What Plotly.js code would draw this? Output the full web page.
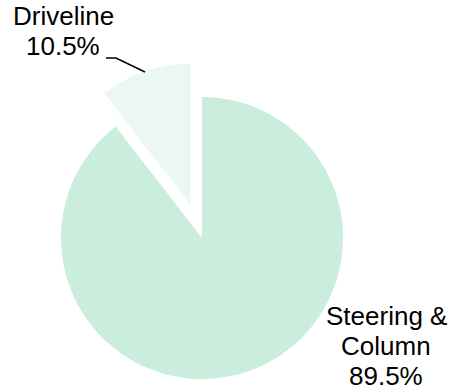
<!DOCTYPE html>
<html>
<head>
<meta charset="utf-8">
<script src="https://cdn.plot.ly/plotly-3.0.1.min.js"></script>
<style>html,body{margin:0;padding:0;background:#fff;}#chart{width:454px;height:392px;}</style>
</head>
<body>
<div id="chart"></div>
<script>
// ---- data ----
const labels = ['Steering & Column', 'Driveline'];
const values = [89.5, 10.5];
const pulls = [0, 0.25];
const colors = ['#CBEDDE', '#EBF7F1'];

// ---- layout constants ----
const W = 454, H = 392;
const CX = 202, CY = 238, R = 141;
const FONT = 'Liberation Sans, Arial, sans-serif';
const FS = 26;
const total = values.reduce((a, b) => a + b, 0);

function domainFor(cx, cy, r) {
  return { x: [(cx - r) / W, (cx + r) / W], y: [1 - (cy + r) / H, 1 - (cy - r) / H] };
}
function px(x) { return x / W; }
function py(y) { return 1 - y / H; }

const traces = [];
traces.push({
  type: 'pie', labels: labels, values: values, sort: false, direction: 'clockwise', rotation: 0,
  marker: { colors: colors.map((c, i) => pulls[i] > 0 ? 'rgba(0,0,0,0)' : c), line: { width: 0 } },
  textinfo: 'none', hoverinfo: 'label+percent', domain: domainFor(CX, CY, R)
});
let acc = 0;
values.forEach((v, i) => {
  const start = acc / total * 360; acc += v;
  const end = acc / total * 360;
  if (pulls[i] > 0) {
    const mid = (start + end) / 2 * Math.PI / 180;
    const dx = R * pulls[i] * Math.sin(mid);
    const dy = -R * pulls[i] * Math.cos(mid);
    traces.push({
      type: 'pie', labels: labels, values: values, sort: false, direction: 'clockwise', rotation: 0,
      marker: { colors: colors.map((c, j) => j === i ? c : 'rgba(0,0,0,0)'), line: { width: 0 } },
      textinfo: 'none', hoverinfo: 'label+percent', domain: domainFor(CX + dx, CY + dy, R)
    });
  }
});

const pct = values.map(v => (v / total * 100).toFixed(1) + '%');
// label block: centre x and baseline of first line; lines spaced 30px
const labelPos = [{ x: 386, y: 327 }, { x: 63, y: 27 }];
const LINE = 30;
const annotations = [];
labels.forEach((l, i) => {
  const lines = l.replace('& ', '&\n').split('\n').concat([pct[i]]);
  lines.forEach((t, k) => {
    annotations.push({
      text: t, x: px(labelPos[i].x), y: py(labelPos[i].y + k * LINE - FS * 0.44),
      xref: 'paper', yref: 'paper', xanchor: 'center', yanchor: 'middle',
      showarrow: false, align: 'center', font: { family: FONT, size: FS, color: '#000' }
    });
  });
});

const layout = {
  width: W, height: H, margin: { l: 0, r: 0, t: 0, b: 0 },
  paper_bgcolor: '#fff', showlegend: false,
  annotations: annotations,
  shapes: [{
    type: 'path', xref: 'paper', yref: 'paper',
    path: `M ${px(106)} ${py(58)} L ${px(116)} ${py(58)} L ${px(145)} ${py(72)}`,
    line: { color: '#000', width: 1.5 }
  }]
};

Plotly.newPlot('chart', traces, layout, { displayModeBar: false, staticPlot: true });
</script>
</body>
</html>
